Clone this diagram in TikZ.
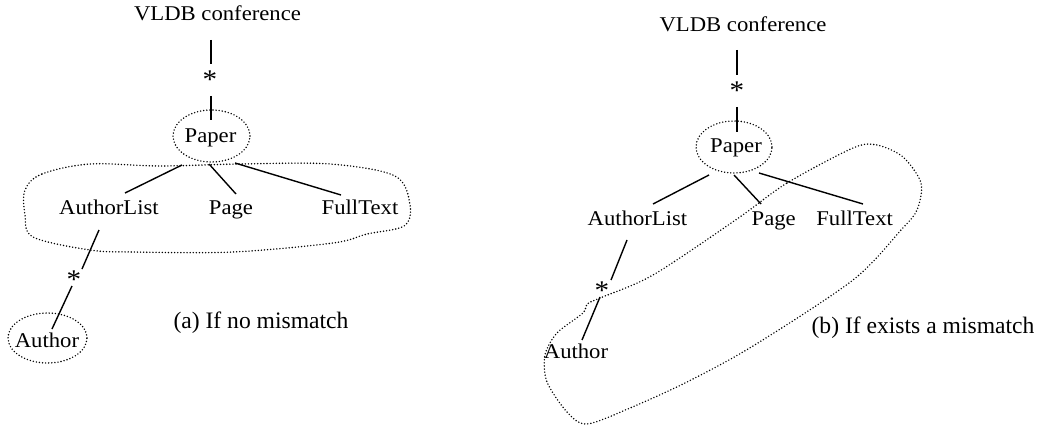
\documentclass[tikz,border=0pt]{standalone}
\usepackage{fontspec}
\setmainfont{Liberation Serif}
\newfontfamily\lblfont[FakeStretch=1.08]{Liberation Serif}
\usetikzlibrary{shapes.geometric}
\tikzset{
  lbl/.style={inner sep=0pt, anchor=base, font=\lblfont\fontsize{10.5}{12}\selectfont},
  starlbl/.style={inner sep=0pt, anchor=base, font=\lblfont\fontsize{13.5}{15}\selectfont},
  captext/.style={inner sep=0pt, anchor=base, font=\fontsize{11.8}{14}\selectfont},
  edge/.style={line width=0.7pt},
  dots/.style={line width=0.8pt, dash pattern=on 0pt off 1.55pt, line cap=round},
  dotell/.style={dots, draw, ellipse, inner sep=0pt},
}
\begin{document}
\begin{tikzpicture}[x=0.5pt, y=-0.5pt]
\useasboundingbox (0,0) rectangle (1052,427);
% ---------------- (a) ----------------
\node[lbl] (vl) at (217.5,20.5) {VLDB conference};
\node[starlbl] (s1) at (210,89) {*};
\node[dotell, minimum width=38.5pt, minimum height=26pt] (paE) at (211.5,136) {};
\node[lbl] (pa) at (210.5,143) {Paper};
\node[lbl] (al) at (109,214) {AuthorList};
\node[lbl] (pg) at (231,214) {Page};
\node[lbl] (ft) at (360,214) {FullText};
\node[starlbl] (s2) at (74,288) {*};
\node[dotell, minimum width=39.5pt, minimum height=25pt] (auE) at (47.5,338) {};
\node[lbl] (au) at (47,347) {Author};
\node[captext] (capA) at (261,328) {(a) If no mismatch};

\draw[edge] ([shift={(-6.5,19.5)}]vl.base) -- ([shift={(1,-25)}]s1.base);
\draw[edge] ([shift={(1,7)}]s1.base) -- ([shift={(-0.5,-16)}]paE.center);
\draw[edge] ([shift={(-29.5,29)}]paE.center) -- ([shift={(16,-21)}]al.base);
\draw[edge] ([shift={(-2.5,28)}]paE.center) -- ([shift={(5,-20)}]pg.base);
\draw[edge] ([shift={(23.5,27)}]paE.center) -- ([shift={(-19,-19)}]ft.base);
\draw[edge] ([shift={(-10,16)}]al.base) -- ([shift={(8,-19)}]s2.base);
\draw[edge] ([shift={(-2,-2)}]s2.base) -- ([shift={(4.5,-9)}]auE.center);

\draw[dots] plot[smooth cycle, tension=0.55] coordinates {
  (25,190) (42,174) (90,164) (160,166) (240,164) (330,164) (395,176)
  (410,205) (404,226) (367,234) (333,243) (233,252) (133,252) (90,250)
  (33,237) (25,215)};

% ---------------- (b) ----------------
\node[lbl] (vl2) at (743,31.5) {VLDB conference};
\node[starlbl] (s3) at (737,99.5) {*};
\node[dotell, minimum width=38pt, minimum height=26pt] (paE2) at (734,147) {};
\node[lbl] (pa2) at (736,153) {Paper};
\node[lbl] (al2) at (637.5,225) {AuthorList};
\node[lbl] (pg2) at (773.7,225) {Page};
\node[lbl] (ft2) at (854.6,225) {FullText};
\node[starlbl] (s4) at (602,299.5) {*};
\node[lbl] (au2) at (576,358) {Author};
\node[captext] (capB) at (923,333) {(b) If exists a mismatch};

\draw[edge] ([shift={(-6,18.5)}]vl2.base) -- ([shift={(0,-24.5)}]s3.base);
\draw[edge] ([shift={(0,7.5)}]s3.base) -- ([shift={(3,-15)}]paE2.center);
\draw[edge] ([shift={(-25,28)}]paE2.center) -- ([shift={(15.5,-21)}]al2.base);
\draw[edge] ([shift={(0,28)}]paE2.center) -- ([shift={(-12.7,-21)}]pg2.base);
\draw[edge] ([shift={(25,26)}]paE2.center) -- ([shift={(8.4,-21)}]ft2.base);
\draw[edge] ([shift={(-10.5,15)}]al2.base) -- ([shift={(9,-19.5)}]s4.base);
\draw[edge] ([shift={(-2,-2.5)}]s4.base) -- ([shift={(6,-18)}]au2.base);

\draw[dots] plot[smooth cycle, tension=0.5] coordinates {
  (737,219) (787,183) (853,148) (877,145) (903,157) (921,183) (917,210)
  (901,230) (853,280) (753,346) (687,382) (630,408) (587,424) (567,412)
  (547,382) (545,355) (557,333) (583,313) (587,304) (600,298) (653,275)};
\end{tikzpicture}
\end{document}
